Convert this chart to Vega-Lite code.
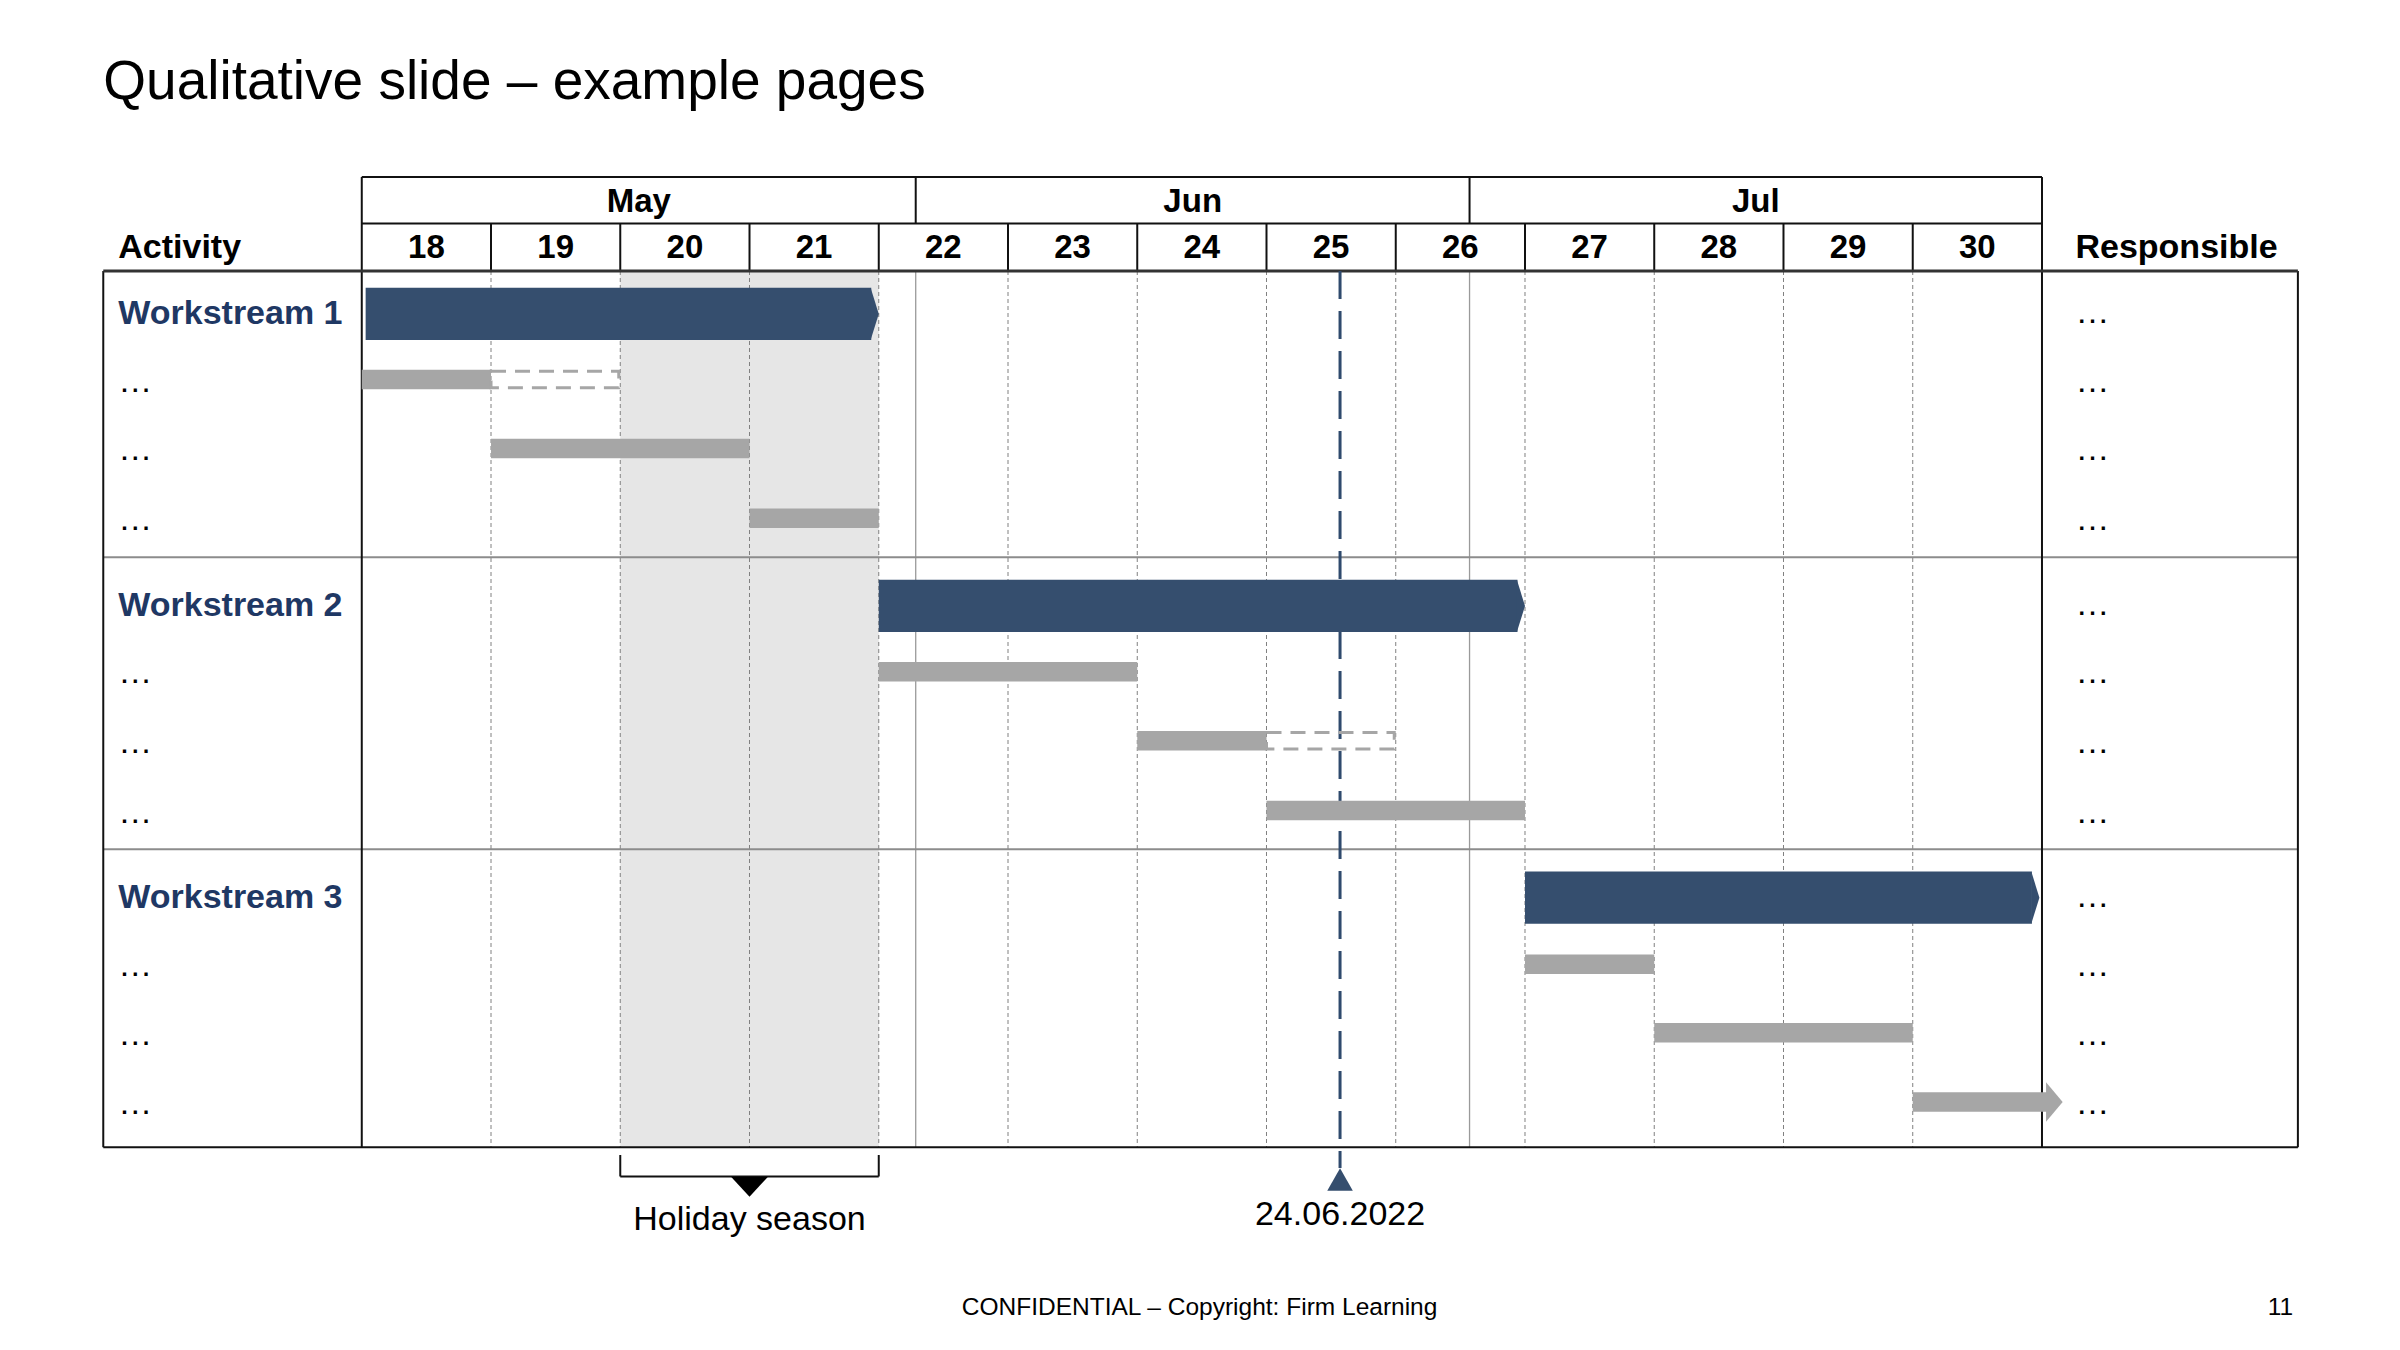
{
  "$schema": "https://vega.github.io/schema/vega-lite/v6.json",
  "width": 2400,
  "height": 1350,
  "padding": 0,
  "autosize": {"type": "none"},
  "background": "white",
  "config": {"view": {"stroke": null}, "font": "Liberation Sans"},
  "datasets": {
    "shade": [{"x": 20, "x2": 22, "y": 0, "y2": 12}],
    "weekGrid": [
      {"x": 19, "x2": 19, "y": 0, "y2": 12}, {"x": 20, "x2": 20, "y": 0, "y2": 12},
      {"x": 21, "x2": 21, "y": 0, "y2": 12}, {"x": 22, "x2": 22, "y": 0, "y2": 12},
      {"x": 23, "x2": 23, "y": 0, "y2": 12}, {"x": 24, "x2": 24, "y": 0, "y2": 12},
      {"x": 25, "x2": 25, "y": 0, "y2": 12}, {"x": 26, "x2": 26, "y": 0, "y2": 12},
      {"x": 27, "x2": 27, "y": 0, "y2": 12}, {"x": 28, "x2": 28, "y": 0, "y2": 12},
      {"x": 29, "x2": 29, "y": 0, "y2": 12}, {"x": 30, "x2": 30, "y": 0, "y2": 12}
    ],
    "monthGrid": [
      {"x": 22.286, "x2": 22.286, "y": 0, "y2": 12},
      {"x": 26.571, "x2": 26.571, "y": 0, "y2": 12}
    ],
    "groupLines": [
      {"x": 16, "x2": 32.98, "y": 3.92, "y2": 3.92},
      {"x": 16, "x2": 32.98, "y": 7.918, "y2": 7.918}
    ],
    "frame": [
      {"x": 16, "x2": 16, "y": 0, "y2": 12},
      {"x": 32.98, "x2": 32.98, "y": 0, "y2": 12},
      {"x": 16, "x2": 32.98, "y": 12, "y2": 12},
      {"x": 18, "x2": 18, "y": 0, "y2": 12},
      {"x": 31, "x2": 31, "y": 0, "y2": 12},
      {"x": 18, "x2": 31, "y": -1.287, "y2": -1.287},
      {"x": 18, "x2": 31, "y": -0.65, "y2": -0.65},
      {"x": 18, "x2": 18, "y": -1.287, "y2": 0},
      {"x": 31, "x2": 31, "y": -1.287, "y2": 0},
      {"x": 22.286, "x2": 22.286, "y": -1.287, "y2": -0.65},
      {"x": 26.571, "x2": 26.571, "y": -1.287, "y2": -0.65},
      {"x": 19, "x2": 19, "y": -0.65, "y2": 0}, {"x": 20, "x2": 20, "y": -0.65, "y2": 0},
      {"x": 21, "x2": 21, "y": -0.65, "y2": 0}, {"x": 22, "x2": 22, "y": -0.65, "y2": 0},
      {"x": 23, "x2": 23, "y": -0.65, "y2": 0}, {"x": 24, "x2": 24, "y": -0.65, "y2": 0},
      {"x": 25, "x2": 25, "y": -0.65, "y2": 0}, {"x": 26, "x2": 26, "y": -0.65, "y2": 0},
      {"x": 27, "x2": 27, "y": -0.65, "y2": 0}, {"x": 28, "x2": 28, "y": -0.65, "y2": 0},
      {"x": 29, "x2": 29, "y": -0.65, "y2": 0}, {"x": 30, "x2": 30, "y": -0.65, "y2": 0},
      {"x": 20, "x2": 20, "y": 12.105, "y2": 12.399},
      {"x": 22, "x2": 22, "y": 12.105, "y2": 12.399},
      {"x": 20, "x2": 22, "y": 12.399, "y2": 12.399}
    ],
    "topLine": [{"x": 16, "x2": 32.98, "y": 0, "y2": 0}],
    "today": [{"x": 25.569, "x2": 25.569, "y": 0, "y2": 12.283}],
    "grayBars": [
      {"x": 18, "x2": 19, "y": 1.486},
      {"x": 19, "x2": 21, "y": 2.43},
      {"x": 21, "x2": 22, "y": 3.386},
      {"x": 22, "x2": 24, "y": 5.487},
      {"x": 24, "x2": 25, "y": 6.433},
      {"x": 25, "x2": 27, "y": 7.387},
      {"x": 27, "x2": 28, "y": 9.492},
      {"x": 28, "x2": 30, "y": 10.431},
      {"x": 30, "x2": 31.04, "y": 11.379}
    ],
    "dashedBars": [
      {"x": 19, "x2": 20, "y": 1.486},
      {"x": 25, "x2": 26, "y": 6.433}
    ],
    "navyBars": [
      {"x": 18.03, "x2": 22, "y": 0.587},
      {"x": 22, "x2": 27, "y": 4.586},
      {"x": 27, "x2": 30.98, "y": 8.581}
    ],
    "arrowTip": [{"x": 31.16, "y": 11.379}],
    "todayMarker": [{"x": 25.569, "y": 12.44}],
    "holidayMarker": [{"x": 21, "y": 12.539}],
    "headerText": [
      {"label": "May", "x": 20.143, "y": -0.812},
      {"label": "Jun", "x": 24.429, "y": -0.812},
      {"label": "Jul", "x": 28.786, "y": -0.812},
      {"label": "18", "x": 18.5, "y": -0.174}, {"label": "19", "x": 19.5, "y": -0.174},
      {"label": "20", "x": 20.5, "y": -0.174}, {"label": "21", "x": 21.5, "y": -0.174},
      {"label": "22", "x": 22.5, "y": -0.174}, {"label": "23", "x": 23.5, "y": -0.174},
      {"label": "24", "x": 24.5, "y": -0.174}, {"label": "25", "x": 25.5, "y": -0.174},
      {"label": "26", "x": 26.5, "y": -0.174}, {"label": "27", "x": 27.5, "y": -0.174},
      {"label": "28", "x": 28.5, "y": -0.174}, {"label": "29", "x": 29.5, "y": -0.174},
      {"label": "30", "x": 30.5, "y": -0.174}
    ],
    "colText": [
      {"label": "Activity", "x": 16.116, "y": -0.174},
      {"label": "Responsible", "x": 31.259, "y": -0.174}
    ],
    "wsText": [
      {"label": "Workstream 1", "x": 16.116, "y": 0.73},
      {"label": "Workstream 2", "x": 16.116, "y": 4.72},
      {"label": "Workstream 3", "x": 16.116, "y": 8.727}
    ],
    "dots": [
      {"label": "…", "x": 16.116, "y": 1.653}, {"label": "…", "x": 16.116, "y": 2.588},
      {"label": "…", "x": 16.116, "y": 3.546}, {"label": "…", "x": 16.116, "y": 5.646},
      {"label": "…", "x": 16.116, "y": 6.604}, {"label": "…", "x": 16.116, "y": 7.554},
      {"label": "…", "x": 16.116, "y": 9.66}, {"label": "…", "x": 16.116, "y": 10.602},
      {"label": "…", "x": 16.116, "y": 11.547},
      {"label": "…", "x": 31.259, "y": 0.716}, {"label": "…", "x": 31.259, "y": 1.653},
      {"label": "…", "x": 31.259, "y": 2.588}, {"label": "…", "x": 31.259, "y": 3.546},
      {"label": "…", "x": 31.259, "y": 4.71}, {"label": "…", "x": 31.259, "y": 5.646},
      {"label": "…", "x": 31.259, "y": 6.604}, {"label": "…", "x": 31.259, "y": 7.554},
      {"label": "…", "x": 31.259, "y": 8.709}, {"label": "…", "x": 31.259, "y": 9.66},
      {"label": "…", "x": 31.259, "y": 10.602}, {"label": "…", "x": 31.259, "y": 11.547}
    ],
    "annot": [
      {"label": "Holiday season", "x": 21, "y": 13.132},
      {"label": "24.06.2022", "x": 25.569, "y": 13.063}
    ],
    "title": [{"label": "Qualitative slide – example pages", "x": 16.0, "y": -2.355}],
    "footer": [{"label": "CONFIDENTIAL – Copyright: Firm Learning", "x": 24.482, "y": 14.295}],
    "page": [{"label": "11", "x": 32.944, "y": 14.295}]
  },
  "layer": [
    {
      "data": {"name": "shade"},
      "mark": {"type": "rect", "color": "#e6e6e6"},
      "encoding": {
        "x": {"field": "x", "type": "quantitative", "scale": {"domain": [15.201, 33.77], "nice": false, "zero": false}, "axis": null},
        "x2": {"field": "x2"},
        "y": {"field": "y", "type": "quantitative", "scale": {"domain": [-3.711, 14.775], "nice": false, "zero": false, "reverse": true}, "axis": null},
        "y2": {"field": "y2"}
      }
    },
    {
      "data": {"name": "weekGrid"},
      "mark": {"type": "rule", "color": "#808080", "strokeWidth": 1, "strokeDash": [4, 3]},
      "encoding": {
        "x": {"field": "x", "type": "quantitative", "scale": {"domain": [15.201, 33.77], "nice": false, "zero": false}, "axis": null},
        "x2": {"field": "x2"},
        "y": {"field": "y", "type": "quantitative", "scale": {"domain": [-3.711, 14.775], "nice": false, "zero": false, "reverse": true}, "axis": null},
        "y2": {"field": "y2"}
      }
    },
    {
      "data": {"name": "monthGrid"},
      "mark": {"type": "rule", "color": "#9a9a9a", "strokeWidth": 1.3},
      "encoding": {
        "x": {"field": "x", "type": "quantitative", "scale": {"domain": [15.201, 33.77], "nice": false, "zero": false}, "axis": null},
        "x2": {"field": "x2"},
        "y": {"field": "y", "type": "quantitative", "scale": {"domain": [-3.711, 14.775], "nice": false, "zero": false, "reverse": true}, "axis": null},
        "y2": {"field": "y2"}
      }
    },
    {
      "data": {"name": "groupLines"},
      "mark": {"type": "rule", "color": "#8c8c8c", "strokeWidth": 2},
      "encoding": {
        "x": {"field": "x", "type": "quantitative", "scale": {"domain": [15.201, 33.77], "nice": false, "zero": false}, "axis": null},
        "x2": {"field": "x2"},
        "y": {"field": "y", "type": "quantitative", "scale": {"domain": [-3.711, 14.775], "nice": false, "zero": false, "reverse": true}, "axis": null},
        "y2": {"field": "y2"}
      }
    },
    {
      "data": {"name": "frame"},
      "mark": {"type": "rule", "color": "#111111", "strokeWidth": 2},
      "encoding": {
        "x": {"field": "x", "type": "quantitative", "scale": {"domain": [15.201, 33.77], "nice": false, "zero": false}, "axis": null},
        "x2": {"field": "x2"},
        "y": {"field": "y", "type": "quantitative", "scale": {"domain": [-3.711, 14.775], "nice": false, "zero": false, "reverse": true}, "axis": null},
        "y2": {"field": "y2"}
      }
    },
    {
      "data": {"name": "topLine"},
      "mark": {"type": "rule", "color": "#333333", "strokeWidth": 3},
      "encoding": {
        "x": {"field": "x", "type": "quantitative", "scale": {"domain": [15.201, 33.77], "nice": false, "zero": false}, "axis": null},
        "x2": {"field": "x2"},
        "y": {"field": "y", "type": "quantitative", "scale": {"domain": [-3.711, 14.775], "nice": false, "zero": false, "reverse": true}, "axis": null},
        "y2": {"field": "y2"}
      }
    },
    {
      "data": {"name": "today"},
      "mark": {"type": "rule", "color": "#2f4a6d", "strokeWidth": 3, "strokeDash": [28, 12], "strokeCap": "butt"},
      "encoding": {
        "x": {"field": "x", "type": "quantitative", "scale": {"domain": [15.201, 33.77], "nice": false, "zero": false}, "axis": null},
        "x2": {"field": "x2"},
        "y": {"field": "y", "type": "quantitative", "scale": {"domain": [-3.711, 14.775], "nice": false, "zero": false, "reverse": true}, "axis": null},
        "y2": {"field": "y2"}
      }
    },
    {
      "data": {"name": "grayBars"},
      "mark": {"type": "rect", "color": "#a6a6a6", "yOffset": -9.7, "y2Offset": 9.7},
      "encoding": {
        "x": {"field": "x", "type": "quantitative", "scale": {"domain": [15.201, 33.77], "nice": false, "zero": false}, "axis": null},
        "x2": {"field": "x2"},
        "y": {"field": "y", "type": "quantitative", "scale": {"domain": [-3.711, 14.775], "nice": false, "zero": false, "reverse": true}, "axis": null},
        "y2": {"field": "y"}
      }
    },
    {
      "data": {"name": "dashedBars"},
      "mark": {"type": "rect", "filled": false, "color": "#a6a6a6", "strokeWidth": 3, "strokeDash": [15, 9], "yOffset": -8.2, "y2Offset": 8.2, "x2Offset": -1.5},
      "encoding": {
        "x": {"field": "x", "type": "quantitative", "scale": {"domain": [15.201, 33.77], "nice": false, "zero": false}, "axis": null},
        "x2": {"field": "x2"},
        "y": {"field": "y", "type": "quantitative", "scale": {"domain": [-3.711, 14.775], "nice": false, "zero": false, "reverse": true}, "axis": null},
        "y2": {"field": "y"}
      }
    },
    {
      "data": {"name": "navyBars"},
      "mark": {"type": "rect", "color": "#354e6e", "yOffset": -26.15, "y2Offset": 26.15, "x2Offset": -7.5},
      "encoding": {
        "x": {"field": "x", "type": "quantitative", "scale": {"domain": [15.201, 33.77], "nice": false, "zero": false}, "axis": null},
        "x2": {"field": "x2"},
        "y": {"field": "y", "type": "quantitative", "scale": {"domain": [-3.711, 14.775], "nice": false, "zero": false, "reverse": true}, "axis": null},
        "y2": {"field": "y"}
      }
    },
    {
      "data": {"name": "navyBars"},
      "mark": {"type": "point", "shape": "M-0.31,-1L0,0L-0.31,1Z", "size": 2735, "filled": true, "opacity": 1, "color": "#354e6e", "strokeWidth": 0},
      "encoding": {
        "x": {"field": "x2", "type": "quantitative", "scale": {"domain": [15.201, 33.77], "nice": false, "zero": false}, "axis": null},
        "y": {"field": "y", "type": "quantitative", "scale": {"domain": [-3.711, 14.775], "nice": false, "zero": false, "reverse": true}, "axis": null}
      }
    },
    {
      "data": {"name": "arrowTip"},
      "mark": {"type": "point", "shape": "M-0.843,-1L0,0L-0.843,1Z", "size": 1552, "filled": true, "opacity": 1, "color": "#a6a6a6", "strokeWidth": 0},
      "encoding": {
        "x": {"field": "x", "type": "quantitative", "scale": {"domain": [15.201, 33.77], "nice": false, "zero": false}, "axis": null},
        "y": {"field": "y", "type": "quantitative", "scale": {"domain": [-3.711, 14.775], "nice": false, "zero": false, "reverse": true}, "axis": null}
      }
    },
    {
      "data": {"name": "todayMarker"},
      "mark": {"type": "point", "shape": "M-1,0.875L0,-0.875L1,0.875Z", "size": 655, "filled": true, "opacity": 1, "color": "#354e6e", "strokeWidth": 0},
      "encoding": {
        "x": {"field": "x", "type": "quantitative", "scale": {"domain": [15.201, 33.77], "nice": false, "zero": false}, "axis": null},
        "y": {"field": "y", "type": "quantitative", "scale": {"domain": [-3.711, 14.775], "nice": false, "zero": false, "reverse": true}, "axis": null}
      }
    },
    {
      "data": {"name": "holidayMarker"},
      "mark": {"type": "point", "shape": "M-1,-0.54L1,-0.54L0,0.54Z", "size": 1369, "filled": true, "opacity": 1, "color": "#000000", "strokeWidth": 0},
      "encoding": {
        "x": {"field": "x", "type": "quantitative", "scale": {"domain": [15.201, 33.77], "nice": false, "zero": false}, "axis": null},
        "y": {"field": "y", "type": "quantitative", "scale": {"domain": [-3.711, 14.775], "nice": false, "zero": false, "reverse": true}, "axis": null}
      }
    },
    {
      "data": {"name": "headerText"},
      "mark": {"type": "text", "font": "Liberation Sans", "fontWeight": "bold", "fontSize": 33, "align": "center", "baseline": "alphabetic", "color": "#000000"},
      "encoding": {
        "x": {"field": "x", "type": "quantitative", "scale": {"domain": [15.201, 33.77], "nice": false, "zero": false}, "axis": null},
        "y": {"field": "y", "type": "quantitative", "scale": {"domain": [-3.711, 14.775], "nice": false, "zero": false, "reverse": true}, "axis": null},
        "text": {"field": "label"}
      }
    },
    {
      "data": {"name": "colText"},
      "mark": {"type": "text", "font": "Liberation Sans", "fontWeight": "bold", "fontSize": 34, "align": "left", "baseline": "alphabetic", "color": "#000000"},
      "encoding": {
        "x": {"field": "x", "type": "quantitative", "scale": {"domain": [15.201, 33.77], "nice": false, "zero": false}, "axis": null},
        "y": {"field": "y", "type": "quantitative", "scale": {"domain": [-3.711, 14.775], "nice": false, "zero": false, "reverse": true}, "axis": null},
        "text": {"field": "label"}
      }
    },
    {
      "data": {"name": "wsText"},
      "mark": {"type": "text", "font": "Liberation Sans", "fontWeight": "bold", "fontSize": 34, "align": "left", "baseline": "alphabetic", "color": "#1f3864"},
      "encoding": {
        "x": {"field": "x", "type": "quantitative", "scale": {"domain": [15.201, 33.77], "nice": false, "zero": false}, "axis": null},
        "y": {"field": "y", "type": "quantitative", "scale": {"domain": [-3.711, 14.775], "nice": false, "zero": false, "reverse": true}, "axis": null},
        "text": {"field": "label"}
      }
    },
    {
      "data": {"name": "dots"},
      "mark": {"type": "text", "font": "Liberation Sans", "fontSize": 34, "align": "left", "baseline": "alphabetic", "color": "#000000"},
      "encoding": {
        "x": {"field": "x", "type": "quantitative", "scale": {"domain": [15.201, 33.77], "nice": false, "zero": false}, "axis": null},
        "y": {"field": "y", "type": "quantitative", "scale": {"domain": [-3.711, 14.775], "nice": false, "zero": false, "reverse": true}, "axis": null},
        "text": {"field": "label"}
      }
    },
    {
      "data": {"name": "annot"},
      "mark": {"type": "text", "font": "Liberation Sans", "fontSize": 34, "align": "center", "baseline": "alphabetic", "color": "#000000"},
      "encoding": {
        "x": {"field": "x", "type": "quantitative", "scale": {"domain": [15.201, 33.77], "nice": false, "zero": false}, "axis": null},
        "y": {"field": "y", "type": "quantitative", "scale": {"domain": [-3.711, 14.775], "nice": false, "zero": false, "reverse": true}, "axis": null},
        "text": {"field": "label"}
      }
    },
    {
      "data": {"name": "title"},
      "mark": {"type": "text", "font": "Liberation Sans", "fontSize": 55, "align": "left", "baseline": "alphabetic", "color": "#000000"},
      "encoding": {
        "x": {"field": "x", "type": "quantitative", "scale": {"domain": [15.201, 33.77], "nice": false, "zero": false}, "axis": null},
        "y": {"field": "y", "type": "quantitative", "scale": {"domain": [-3.711, 14.775], "nice": false, "zero": false, "reverse": true}, "axis": null},
        "text": {"field": "label"}
      }
    },
    {
      "data": {"name": "footer"},
      "mark": {"type": "text", "font": "Liberation Sans", "fontSize": 24.5, "align": "center", "baseline": "alphabetic", "color": "#000000"},
      "encoding": {
        "x": {"field": "x", "type": "quantitative", "scale": {"domain": [15.201, 33.77], "nice": false, "zero": false}, "axis": null},
        "y": {"field": "y", "type": "quantitative", "scale": {"domain": [-3.711, 14.775], "nice": false, "zero": false, "reverse": true}, "axis": null},
        "text": {"field": "label"}
      }
    },
    {
      "data": {"name": "page"},
      "mark": {"type": "text", "font": "Liberation Sans", "fontSize": 24.5, "align": "right", "baseline": "alphabetic", "color": "#000000"},
      "encoding": {
        "x": {"field": "x", "type": "quantitative", "scale": {"domain": [15.201, 33.77], "nice": false, "zero": false}, "axis": null},
        "y": {"field": "y", "type": "quantitative", "scale": {"domain": [-3.711, 14.775], "nice": false, "zero": false, "reverse": true}, "axis": null},
        "text": {"field": "label"}
      }
    }
  ]
}
